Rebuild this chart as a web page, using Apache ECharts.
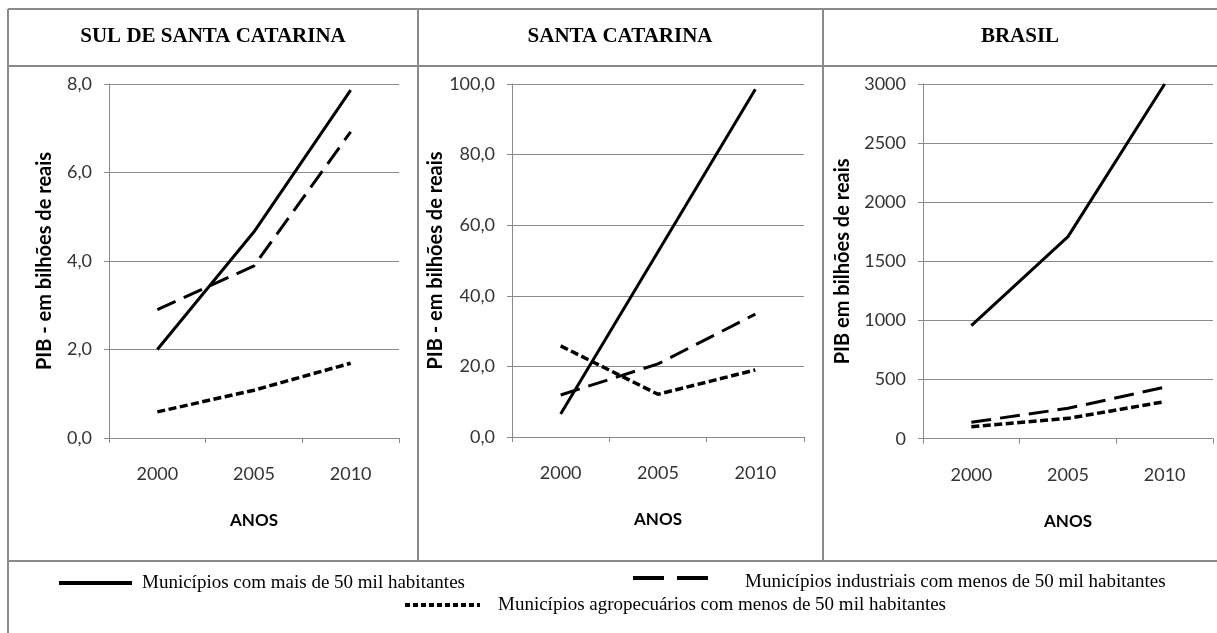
<!DOCTYPE html>
<html>
<head>
<meta charset="utf-8">
<script src="https://cdn.jsdelivr.net/npm/echarts@6/dist/echarts.min.js"></script>
<style>html,body{margin:0;padding:0;background:#fff;}#c{width:1217px;height:633px;}</style>
</head>
<body>
<div id="c"></div>
<script>
// ---- data ----
const years = ['2000', '2005', '2010'];
const panelTitles = ['SUL DE SANTA CATARINA', 'SANTA CATARINA', 'BRASIL'];
const yNames = ['PIB - em bilhões de reais', 'PIB - em bilhões de reais', 'PIB em bilhões de reais'];
const seriesNames = [
  'Municípios com mais de 50 mil habitantes',
  'Municípios industriais com menos de 50 mil habitantes',
  'Municípios agropecuários com menos de 50 mil habitantes'
];
// Sul de Santa Catarina
const sulMaior = [2.0, 4.66, 7.86];
const sulIndustrial = [2.9, 3.89, 6.92];
const sulAgro = [0.59, 1.08, 1.69];
// Santa Catarina
const scMaior = [6.5, 52.5, 98.5];
const scIndustrial = [11.9, 20.7, 34.8];
const scAgro = [25.8, 12.1, 19.0];
// Brasil
const brMaior = [956, 1709, 3000];
const brIndustrial = [139, 257, 435];
const brAgro = [101, 172, 313];
// axis ranges
const yMax = [8, 100, 3000];
const yInterval = [2, 20, 500];
const yDecimals = [1, 1, 0];

const panels = [
  [sulMaior, sulIndustrial, sulAgro],
  [scMaior, scIndustrial, scAgro],
  [brMaior, brIndustrial, brAgro]
];

// ---- layout ----
const grids = [
  {left: 109, right: 1217 - 399, top: 84, bottom: 633 - 438},
  {left: 512, right: 1217 - 804, top: 84, bottom: 633 - 437},
  {left: 923, right: 1217 - 1213, top: 84, bottom: 633 - 438.7}
];
const yNameGaps = [54, 56, 70];
const gray = '#8a8a8a';
const calibri = 'Lato, "Open Sans", sans-serif';
const times = '"Liberation Serif", "Times New Roman", serif';
const lineStyles = [
  {type: 'solid', width: 3},
  {type: [20, 9], width: 3},
  {type: [8, 3.5], width: 3.5}
];

const xAxes = [], yAxes = [], series = [];
for (let i = 0; i < 3; i++) {
  xAxes.push({
    type: 'category', gridIndex: i, data: years, boundaryGap: true,
    axisLine: {lineStyle: {color: gray, width: 1}},
    axisTick: {show: true, length: 5, lineStyle: {color: gray}},
    axisLabel: {color: '#333', fontFamily: calibri, fontSize: 18, margin: 27},
    name: 'ANOS', nameLocation: 'middle', nameGap: 74,
    nameTextStyle: {color: '#000', fontFamily: calibri, fontWeight: 'bold', fontSize: 17}
  });
  const dec = yDecimals[i];
  yAxes.push({
    type: 'value', gridIndex: i, min: 0, max: yMax[i], interval: yInterval[i],
    axisLine: {show: true, lineStyle: {color: gray, width: 1}},
    axisTick: {show: true, length: 5, lineStyle: {color: gray}},
    splitLine: {show: true, lineStyle: {color: gray, width: 1}},
    axisLabel: {
      color: '#333', fontFamily: calibri, fontSize: 18, margin: 17,
      formatter: v => dec ? v.toFixed(dec).replace('.', ',') : String(v)
    },
    name: yNames[i], nameLocation: 'middle', nameGap: yNameGaps[i],
    nameTextStyle: {color: '#000', fontFamily: calibri, fontWeight: 'bold', fontSize: 20}
  });
  for (let s = 0; s < 3; s++) {
    series.push({
      type: 'line', name: seriesNames[s], xAxisIndex: i, yAxisIndex: i,
      data: panels[i][s], symbol: 'none', silent: true, animation: false,
      lineStyle: Object.assign({color: '#000', cap: 'butt'}, lineStyles[s])
    });
  }
}

// frame + headers + legend (graphic)
const L = (x1, y1, x2, y2) => ({type: 'line', shape: {x1, y1, x2, y2}, style: {stroke: gray, lineWidth: 2}, silent: true});
const graphic = [
  L(8, 9, 1217, 9), L(8, 66, 1217, 66), L(8, 9, 8, 633),
  L(418, 9, 418, 561), L(823, 9, 823, 561), L(8, 561, 1217, 561)
];
const headerX = [213, 620, 1020];
for (let i = 0; i < 3; i++) {
  graphic.push({type: 'text', x: headerX[i], y: 37, silent: true,
    style: {text: panelTitles[i], fill: '#000', font: 'bold 21px ' + times, textAlign: 'center', textVerticalAlign: 'middle'}});
}
// legend
graphic.push({type: 'line', shape: {x1: 59, y1: 583, x2: 132, y2: 583}, style: {stroke: '#000', lineWidth: 4}, silent: true});
graphic.push({type: 'text', x: 142, y: 583, silent: true, style: {text: seriesNames[0], fill: '#000', font: '19px ' + times, textVerticalAlign: 'middle'}});
graphic.push({type: 'line', shape: {x1: 633, y1: 578, x2: 708, y2: 578}, style: {stroke: '#000', lineWidth: 4, lineDash: [31, 13]}, silent: true});
graphic.push({type: 'text', x: 745, y: 582, silent: true, style: {text: seriesNames[1], fill: '#000', font: '19px ' + times, textVerticalAlign: 'middle'}});
graphic.push({type: 'line', shape: {x1: 405, y1: 605, x2: 480, y2: 605}, style: {stroke: '#000', lineWidth: 4, lineDash: [5, 3]}, silent: true});
graphic.push({type: 'text', x: 498, y: 605, silent: true, style: {text: seriesNames[2], fill: '#000', font: '19px ' + times, textVerticalAlign: 'middle'}});

const chart = echarts.init(document.getElementById('c'), null, {renderer: 'canvas'});
chart.setOption({
  animation: false,
  backgroundColor: '#fff',
  grid: grids,
  xAxis: xAxes,
  yAxis: yAxes,
  series: series,
  graphic: graphic
});
</script>
</body>
</html>
